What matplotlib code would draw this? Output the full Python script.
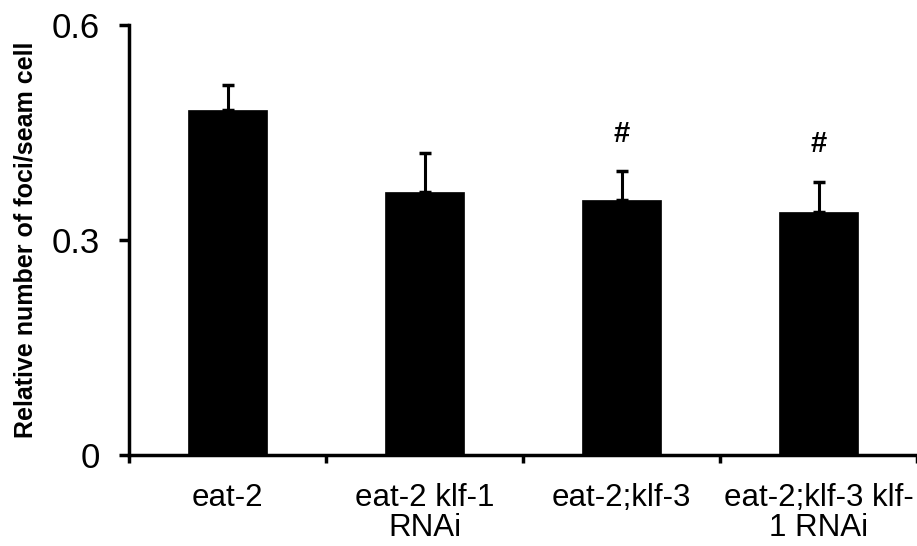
import matplotlib
matplotlib.use("Agg")
import matplotlib.pyplot as plt
import numpy as np

# values
groups = ["eat-2", "eat-2 klf-1\nRNAi", "eat-2;klf-3", "eat-2;klf-3 klf-\n1 RNAi"]
means = [0.481, 0.367, 0.356, 0.339]
errors = [0.035, 0.054, 0.040, 0.042]
marks = ["", "", "#", "#"]
yticks = [0, 0.3, 0.6]
ytick_labels = ["0", "0.3", "0.6"]

plt.rcParams["font.family"] = ["Liberation Sans", "DejaVu Sans"]

fig = plt.figure(figsize=(9.17, 5.46), dpi=100)
ax = fig.add_axes([0.1407, 0.1667, 0.8593, 0.7873])

x = np.arange(len(groups))
ax.bar(x, means, width=0.4, color="black", edgecolor="black", linewidth=0.5, zorder=2)
ax.errorbar(x, means, yerr=[np.zeros(len(errors)), errors], fmt="none",
            ecolor="black", elinewidth=2.2, capsize=4, capthick=2.5, zorder=1)

# significance marks above the error bars
for xi, m, e, s in zip(x, means, errors, marks):
    if s:
        ax.annotate(s, (xi, m + e), xytext=(0, 17), textcoords="offset points",
                    ha="center", va="bottom", fontsize=21, fontweight="bold")

ax.set_xlim(-0.5, 3.5)
ax.set_ylim(0, 0.6)
ax.set_yticks(yticks)
ax.set_yticklabels(ytick_labels)
ax.set_xticks(x)
ax.set_xticklabels(groups, fontsize=22.5, linespacing=1.0)
ax.set_xticks(np.arange(-0.5, 4.0, 1.0), minor=True)

ax.tick_params(axis="y", direction="out", length=7, width=2.5, labelsize=25, pad=14)
ax.tick_params(axis="x", which="major", length=0, pad=20)
ax.tick_params(axis="x", which="minor", direction="out", length=6, width=2.5)

for side in ["top", "right"]:
    ax.spines[side].set_visible(False)
for side in ["left", "bottom"]:
    ax.spines[side].set_linewidth(2.5)

ax.set_ylabel("Relative number of foci/seam cell", fontsize=18, fontweight="bold", labelpad=10)

fig.savefig("out.png", dpi=100)
